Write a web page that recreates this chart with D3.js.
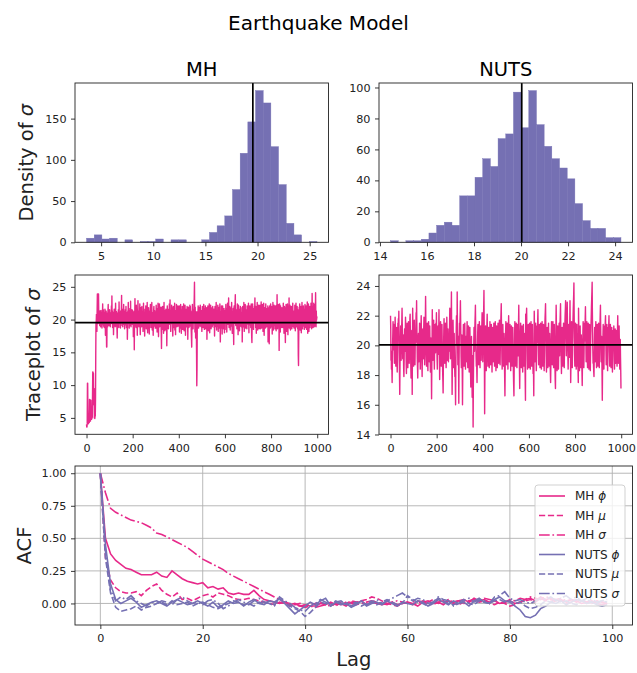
<!DOCTYPE html>
<html>
<head>
<meta charset="utf-8">
<script src="https://cdn.jsdelivr.net/npm/d3@7"></script>
<style>
  body { margin: 0; background: #fff; }
  svg { font-family: "DejaVu Sans", sans-serif; }
</style>
</head>
<body>
<div id="chart"></div>
<script>
/**
 * Earthquake model: MH vs NUTS diagnostics (histograms, traces, ACF)
 */

// ---- histogram counts (30 equal bins between lo and hi) ----
var mhSigmaRange = [3.6, 25.7];
var mhSigmaCounts = [5, 9, 4, 5, 0, 3, 0, 1, 1, 4, 0, 3, 3, 0, 0, 3, 12, 20, 32, 64,
    108, 146, 184, 169, 116, 70, 23, 9, 0, 1];
var nutsSigmaRange = [14.45, 24.25];
var nutsSigmaCounts = [1, 0, 1, 1, 2, 6, 11, 13, 11, 30, 30, 42, 54, 49, 67, 70, 97, 74, 98, 76,
    62, 54, 48, 41, 25, 14, 9, 9, 3, 3];
var mhSigmaMean = 19.55,
    nutsSigmaMean = 20.03;

// ---- traces of sigma ----
var mhSigmaTrace = [
    4.0,3.6,3.6,4.2,10.3,10.3,6.2,4.1,4.1,4.6,4.6,4.3,4.3,7.8,7.8,6.0,4.5,4.5,7.7,7.7,5.2,5.2,4.8,6.5,6.5,
    5.0,8.5,12.0,12.0,11.8,11.8,7.0,9.5,9.5,5.0,5.0,4.9,5.3,5.3,8.0,14.5,19.6,19.6,20.8,18.2,18.2,21.5,23.9,23.9,19.4,
    19.4,23.9,23.9,21.2,19.6,19.6,20.8,19.1,21.3,21.3,20.0,18.9,20.6,21.4,19.5,19.5,20.9,18.7,21.0,20.2,22.4,19.3,20.7,21.5,19.0,
    20.4,20.4,18.8,21.1,19.8,21.6,20.3,17.6,19.4,20.9,21.3,19.2,15.8,15.8,19.7,21.0,20.1,18.9,21.4,22.3,19.6,20.5,21.2,19.1,20.8,
    21.5,19.3,20.2,18.9,21.0,21.0,19.7,20.6,22.1,19.4,23.6,20.3,21.3,18.8,19.9,21.1,20.4,17.7,19.5,20.8,21.6,19.2,20.1,21.4,18.9,
    20.7,22.5,19.8,20.9,19.0,21.2,20.2,18.6,17.2,19.6,21.0,20.5,19.3,21.5,20.0,18.8,22.7,20.6,19.4,21.1,19.9,20.8,18.7,21.3,20.1,
    19.6,21.4,23.7,20.2,19.1,21.0,20.5,18.9,21.6,19.8,20.7,22.3,19.3,20.4,21.2,18.6,20.9,19.7,21.5,20.0,19.2,22.0,20.6,18.8,21.1,
    19.5,20.3,17.0,19.0,21.3,20.1,22.6,19.4,20.8,21.4,18.7,20.2,19.9,21.7,20.4,19.1,22.8,20.0,18.9,21.0,19.6,20.7,21.5,19.3,20.5,
    21.4,19.2,20.3,17.4,19.8,20.8,21.2,15.4,19.5,20.6,23.2,20.1,19.0,21.3,20.4,18.8,22.2,19.7,20.9,21.5,17.6,19.4,20.6,22.9,19.9,
    21.1,20.2,18.9,21.3,19.6,20.7,22.4,19.4,17.7,20.3,21.8,19.1,20.5,21.2,18.9,22.0,20.0,19.5,21.2,20.8,18.2,19.8,22.5,20.4,19.3,
    21.0,20.0,17.5,19.5,21.6,20.3,19.3,22.1,20.7,18.6,21.0,19.9,20.5,22.6,19.2,18.0,20.5,21.3,19.6,21.8,20.1,19.2,17.8,20.8,21.3,
    19.7,20.2,22.3,20.6,18.8,21.1,19.5,20.9,22.6,19.3,18.4,21.1,20.3,19.7,17.6,20.6,21.4,22.0,19.0,20.8,21.4,19.4,20.1,18.7,21.2,
    20.3,18.7,22.2,19.4,21.7,20.5,18.1,20.8,21.3,19.8,22.5,20.1,17.4,19.6,21.2,20.0,22.4,18.9,20.6,21.5,19.3,20.4,21.9,19.1,17.9,
    15.6,19.6,21.9,20.4,18.5,22.0,19.7,21.0,20.3,17.9,20.7,22.6,19.2,21.4,20.0,18.3,21.0,19.5,20.8,21.6,19.3,18.5,20.2,16.0,19.0,
    22.1,20.2,19.0,21.6,20.6,18.6,20.9,21.4,19.5,22.4,20.1,19.3,23.0,19.7,21.3,18.2,20.5,21.1,19.8,22.2,19.4,20.7,21.8,18.9,17.5,
    20.1,22.0,19.6,18.8,21.1,20.3,19.9,22.5,18.4,20.7,21.3,17.7,21.4,19.2,20.6,22.3,20.3,18.9,21.7,19.5,20.2,22.1,19.0,20.8,21.2,
    19.5,21.7,22.1,18.1,20.6,21.2,19.4,18.7,22.3,19.8,20.9,17.9,21.5,20.4,19.3,22.0,20.7,18.5,21.8,19.6,20.2,22.4,20.2,18.3,21.0,
    19.8,19.1,22.2,20.5,17.6,20.8,21.3,19.7,21.6,18.9,20.5,22.0,19.4,21.3,17.0,19.3,20.7,21.9,20.1,18.8,21.2,19.6,20.4,22.2,19.0,
    22.0,19.4,21.3,20.6,18.2,17.0,15.8,19.5,20.7,22.3,19.2,21.5,18.6,20.4,21.0,19.7,22.0,23.4,25.7,20.3,18.1,21.9,19.7,17.2,20.5,
    21.2,19.0,14.8,9.9,12.5,18.4,21.2,19.5,20.8,22.1,20.0,18.7,21.4,19.3,20.6,21.9,19.0,20.3,22.2,20.6,19.1,21.4,18.9,20.2,21.0,
    18.2,20.8,22.0,19.3,21.1,20.5,18.8,20.4,22.3,19.6,21.7,18.5,20.2,21.4,19.9,22.1,20.0,18.6,21.5,19.4,20.7,21.8,17.0,19.8,21.0,
    20.3,22.1,20.6,18.3,21.5,19.1,20.9,22.4,20.0,18.0,21.3,19.5,20.6,22.2,20.7,18.6,21.8,19.2,20.5,21.2,18.9,20.9,22.0,19.6,20.4,
    19.2,20.9,21.6,18.8,20.3,17.5,20.5,22.0,18.9,21.4,20.2,19.7,22.6,20.3,18.4,21.1,19.6,21.3,19.0,22.2,20.6,18.2,21.6,20.1,19.4,
    21.9,20.4,18.7,22.4,19.4,16.6,19.8,21.2,20.1,18.7,22.1,19.8,21.0,17.8,20.7,22.1,19.1,20.5,21.4,18.6,19.9,21.7,20.3,18.0,21.0,
    20.2,18.5,21.4,20.4,22.3,19.6,20.8,21.7,18.1,20.9,19.5,22.5,20.4,19.3,21.2,20.0,23.3,20.2,18.8,21.4,19.9,22.0,20.6,18.4,21.6,
    19.5,20.6,21.8,19.0,22.6,20.3,18.7,17.9,21.2,20.1,19.5,21.7,18.5,16.2,20.8,22.1,19.4,21.0,20.3,22.4,23.8,20.0,19.1,21.5,20.6,
    19.7,21.5,18.6,20.5,22.4,19.2,21.0,17.7,20.1,22.2,19.4,21.6,20.3,18.3,20.7,21.3,19.6,22.0,19.0,20.9,21.8,18.9,20.4,19.5,21.1,
    16.6,19.9,22.0,20.4,18.9,21.3,19.1,22.6,20.0,18.2,21.8,19.6,20.6,22.3,18.7,21.1,20.2,19.3,21.5,20.0,18.6,22.1,19.8,21.4,20.3,
    21.1,19.3,22.5,20.2,18.0,21.5,19.8,20.7,22.1,19.2,20.5,21.4,18.8,20.9,22.4,19.0,17.4,16.5,19.7,20.9,22.4,19.0,21.7,20.3,18.5,
    21.2,20.3,19.5,22.0,21.6,23.3,19.5,21.2,18.8,22.0,20.6,17.9,21.4,19.2,20.8,22.6,20.1,18.4,21.9,19.7,20.4,22.2,20.8,18.6,21.3,
    21.9,19.7,22.2,20.8,18.6,21.3,19.4,22.7,20.0,18.7,21.6,19.1,20.5,22.3,20.4,18.2,21.0,19.9,22.5,20.7,17.6,19.6,21.8,20.2,19.3,
    21.2,18.7,22.4,20.0,19.8,21.5,18.9,20.3,21.7,19.2,20.6,22.1,16.6,19.6,21.8,20.5,19.3,16.3,20.3,22.1,19.3,21.2,18.7,22.4,20.7,
    18.9,21.5,19.5,22.0,20.2,17.8,21.1,19.0,22.6,20.5,18.4,21.7,19.7,22.2,20.1,19.1,21.4,18.6,20.8,22.1,19.6,21.0,18.3,20.6,22.2,
    19.4,23.8,20.1,18.6,21.4,19.2,22.3,20.7,18.9,21.1,15.3,20.8,22.4,19.6,21.0,18.1,22.1,20.4,19.1,21.6,20.0,18.8,21.8,19.3,20.6,
    21.6,18.8,20.6,22.5,19.4,21.2,17.9,20.3,22.0,19.8,21.8,18.5,16.5,20.9,19.3,22.3,20.1,21.5,18.2,21.5,19.6,22.4,20.5,17.7,21.0,
    19.2,22.1,20.0,23.3,18.7,21.3,19.5,22.2,20.6,18.4,21.7,19.1,20.8,22.0,19.9,18.6,21.4,20.2,19.0,22.5,20.5,18.9,21.3,19.7,20.4,
    18.7,21.3,19.5,22.2,20.4,18.3,21.7,19.9,22.5,20.6,18.9,21.2,19.4,22.0,20.7,18.6,21.5,19.6,14.5,13.0,17.6,20.2,21.9,19.1,22.4,
    20.7,18.4,21.4,19.7,22.0,20.3,18.0,21.1,19.4,22.6,20.0,18.6,21.5,19.3,20.8,22.1,19.0,21.6,20.2,18.5,21.0,19.8,22.3,20.4,18.8,
    21.5,19.3,22.1,20.8,18.5,21.2,19.8,22.7,20.1,17.9,21.6,19.0,22.4,20.5,18.2,21.0,19.6,22.0,20.3,18.8,21.7,19.2,20.6,22.5,19.4,
    21.2,18.6,20.9,24.0,19.6,22.0,20.3,18.8,21.7,19.2,22.5,20.6,18.9,21.3,20.2,19.0,22.3,20.8,24.1,20.6,18.9,21.3,19.9,20.2,20.5
];
var nutsSigmaTrace = [
    22.0,21.1,19.0,19.6,18.4,19.2,18.3,17.5,18.9,20.1,20.8,21.6,20.3,19.7,20.9,21.4,20.0,18.8,19.5,20.6,21.9,21.0,19.9,18.6,19.3,
    20.4,21.2,20.7,19.4,18.2,19.1,20.2,21.5,20.9,21.8,21.1,22.3,20.6,19.3,18.0,16.7,18.5,19.8,20.5,21.3,20.1,19.0,19.9,21.0,21.7,
    22.5,21.4,20.2,19.1,19.8,20.7,19.5,18.4,17.9,19.0,20.3,21.1,20.5,19.6,20.8,21.9,21.2,20.0,18.7,18.1,19.4,20.6,21.5,20.4,19.2,
    18.5,19.7,20.9,21.6,20.8,19.9,18.8,19.6,20.5,21.8,22.1,20.9,19.7,18.6,17.8,18.9,20.2,21.0,19.8,16.7,19.5,22.5,21.3,20.4,19.3,
    18.6,19.8,20.9,21.7,20.6,19.4,18.7,19.9,21.0,20.2,21.4,22.2,21.6,23.0,21.5,20.3,19.1,18.5,17.8,19.0,20.1,20.8,19.7,18.9,19.6,
    20.7,21.5,20.4,19.3,18.4,19.5,20.6,21.3,22.0,20.9,19.8,18.8,17.9,19.2,20.4,21.1,20.0,19.1,19.9,21.2,21.9,20.7,19.6,18.7,19.4,
    20.6,21.8,23.3,21.9,20.5,19.4,18.6,19.7,20.8,21.5,20.3,19.1,18.3,19.5,20.7,21.6,20.9,19.8,18.9,20.1,21.3,20.2,19.0,18.2,19.4,
    20.5,19.3,18.1,16.4,18.6,20.0,22.4,21.2,20.1,19.0,19.8,20.9,21.7,20.5,19.2,18.4,19.6,20.8,21.4,20.3,19.5,20.6,21.5,21.0,22.2,
    21.0,19.8,19.0,18.4,19.6,20.7,21.3,20.1,19.4,20.9,22.4,21.1,19.5,17.7,18.8,20.0,20.9,21.6,20.4,19.3,18.6,19.7,20.6,21.4,20.3,
    19.1,18.2,17.6,16.8,18.5,19.9,21.0,21.8,20.7,19.6,18.8,19.8,20.9,21.5,20.4,19.2,18.5,19.6,20.7,21.9,21.0,19.9,19.0,20.2,21.1,
    20.0,18.9,19.7,20.8,19.6,20.5,21.4,22.5,21.2,20.0,19.1,19.9,21.0,22.1,23.6,20.9,18.8,16.7,18.4,19.8,20.9,21.7,20.6,19.4,18.5,
    19.6,20.8,19.7,18.6,17.9,18.8,17.4,16.0,18.3,19.9,21.2,22.0,21.3,20.1,23.6,21.4,19.9,18.7,19.8,20.6,18.4,16.1,18.7,20.3,21.5,
    20.8,21.6,22.2,23.0,21.7,20.4,19.2,18.5,19.6,20.7,19.4,18.1,16.0,17.9,19.5,20.6,21.4,20.5,19.3,18.6,19.8,20.9,21.5,20.3,19.0,
    18.4,19.5,20.6,19.7,18.9,19.8,20.8,21.6,20.6,19.4,18.5,19.3,20.5,21.3,20.2,19.1,18.2,19.4,20.7,21.2,20.0,18.9,18.0,17.2,18.6,
    19.7,20.6,19.4,18.1,16.5,18.0,19.3,17.6,14.5,17.2,19.0,20.3,21.2,20.4,19.6,20.7,21.5,22.0,22.7,21.3,20.1,19.2,18.6,19.5,18.3,
    17.5,18.8,20.0,20.9,21.4,20.2,19.3,18.7,19.8,20.8,21.6,20.5,19.4,18.5,19.7,20.6,21.3,20.1,19.0,19.9,20.8,21.4,22.2,21.0,19.8,
    18.9,19.7,20.8,21.9,22.6,23.7,21.5,18.6,15.4,17.8,19.5,20.7,21.3,20.2,19.0,18.3,19.4,20.6,21.5,22.1,20.9,19.7,18.6,19.5,20.4,
    21.2,20.1,19.3,18.5,19.6,20.7,21.6,20.5,19.4,18.7,19.8,20.9,21.4,20.3,19.1,18.2,19.3,20.5,21.2,20.0,18.9,19.8,20.8,21.5,20.6,
    19.5,18.6,19.7,20.9,21.6,20.4,19.2,18.3,19.4,20.6,21.3,20.2,19.1,18.5,19.6,20.7,21.5,20.8,19.7,18.8,19.9,21.0,21.7,20.5,19.3,
    18.7,19.9,20.8,21.6,22.2,22.8,21.4,20.1,19.0,18.4,19.5,20.6,21.4,20.3,19.2,18.6,19.7,20.8,20.0,18.8,17.6,16.6,18.5,19.9,20.9,
    21.6,20.5,19.4,18.7,19.8,20.9,21.5,20.3,19.1,18.4,19.6,20.8,22.0,21.1,19.9,18.9,19.7,20.6,21.4,20.2,19.0,18.3,19.4,20.5,21.3,
    20.4,19.3,18.6,19.7,20.8,21.2,20.0,18.8,17.9,17.2,16.6,18.4,19.8,20.9,21.6,20.5,19.4,18.6,19.6,20.7,21.5,20.3,19.2,18.5,19.6,
    20.7,21.4,20.2,19.3,20.5,21.6,22.7,21.1,19.6,18.3,17.1,18.6,19.9,20.8,21.5,20.4,19.3,18.5,19.5,20.6,21.3,20.1,19.0,18.2,19.4,
    20.6,21.4,20.3,19.1,18.6,19.7,20.8,20.0,18.7,17.4,16.3,22.1,20.9,21.6,22.0,22.5,21.2,19.9,19.0,18.4,19.5,20.7,21.4,20.2,19.1,
    18.5,19.6,20.8,21.5,20.3,19.2,18.4,19.5,20.7,21.6,20.5,19.3,18.6,19.7,20.9,21.4,20.2,19.0,18.1,19.3,18.0,16.6,19.4,22.3,21.2,
    20.0,18.9,19.8,20.9,21.5,20.4,19.1,18.3,19.4,20.6,21.3,20.2,21.0,21.7,22.4,21.1,19.8,18.7,19.6,20.7,21.4,20.3,19.2,18.5,19.6,
    20.8,21.5,20.3,19.1,18.4,19.5,20.7,21.6,20.4,19.2,18.6,19.7,20.9,21.4,20.2,19.0,18.3,19.4,20.6,21.3,21.9,22.3,22.8,21.4,20.1,
    19.0,18.2,19.3,20.5,21.2,20.1,19.0,18.5,19.6,20.8,21.5,20.4,19.3,18.6,19.7,20.8,20.0,18.9,18.1,17.5,18.6,19.8,20.9,21.6,20.5,
    19.4,18.7,19.8,20.9,21.6,20.4,19.2,18.5,19.6,20.7,21.4,20.2,19.1,18.4,17.6,17.1,19.0,21.2,22.7,21.5,20.2,19.0,18.3,19.4,20.6,
    21.3,20.1,19.0,18.4,19.5,20.7,21.5,20.4,19.3,20.6,21.6,22.2,22.8,21.3,20.0,18.9,18.1,19.2,20.4,21.2,20.1,19.0,18.6,19.8,20.9,
    21.5,20.3,19.2,18.5,19.6,20.8,21.5,22.1,22.5,23.0,21.6,20.3,19.3,20.4,21.4,22.2,22.9,21.5,20.2,19.1,18.4,19.5,20.7,21.4,20.3,
    19.2,20.4,21.5,23.0,21.3,19.8,17.5,18.6,19.8,20.9,21.6,20.4,19.3,18.5,19.7,20.8,21.7,22.4,22.9,23.4,24.2,22.1,20.5,19.3,18.6,
    19.7,20.8,21.5,20.3,19.2,18.4,19.5,20.7,21.4,20.2,19.1,18.6,19.3,18.2,17.5,22.5,21.3,20.1,19.0,18.3,19.4,20.6,21.3,20.1,19.0,
    18.5,19.6,20.7,20.0,18.9,18.2,17.3,18.7,19.9,20.9,21.6,20.4,19.3,18.5,19.6,20.8,21.5,20.3,21.1,21.9,22.6,21.3,20.0,18.9,19.8,
    20.9,21.6,20.4,19.2,18.5,19.6,20.8,21.5,20.3,19.1,18.4,19.5,20.7,21.4,20.2,19.0,18.3,19.4,20.6,21.3,21.9,22.6,23.1,23.6,24.25,
    22.3,20.9,19.7,18.8,19.5,18.6,18.2,17.9,19.2,20.4,21.2,20.0,18.9,19.8,20.9,21.6,20.4,19.3,18.5,19.6,20.8,21.4,20.2,19.1,18.6,
    19.7,20.8,21.5,20.3,19.2,18.5,19.6,20.8,21.4,22.1,22.7,21.3,20.0,18.9,19.8,20.6,19.4,18.0,16.3,18.2,19.6,20.7,21.4,20.2,19.1,
    18.4,19.5,20.7,21.3,20.1,20.9,21.6,22.0,20.8,19.6,18.7,19.8,20.9,21.4,20.2,19.0,18.3,19.4,20.5,21.2,20.6,21.4,22.0,20.7,19.5,
    18.6,19.7,20.8,21.4,20.2,19.1,18.5,19.6,20.7,21.2,20.0,18.9,18.2,19.3,20.4,21.0,20.3,20.8,21.3,20.1,19.0,18.4,19.5,20.6,21.1,
    20.0,18.8,19.7,20.5,21.0,20.2,19.1,18.6,19.8,21.1,22.0,20.7,19.5,18.8,19.9,20.9,21.3,20.1,19.0,18.4,19.5,20.4,19.2,18.3,17.1
];

// ---- autocorrelation, lags 0..99 ----
var acfMhPhi = [
    1.00,0.50,0.38,0.33,0.30,0.27,0.26,0.24,0.22,0.22, 0.22,0.24,0.21,0.20,0.25,0.22,0.19,0.17,0.16,0.15,
    0.16,0.12,0.13,0.11,0.12,0.08,0.07,0.08,0.07,0.07, 0.10,0.06,0.03,0.02,0.01,0.00,0.01,-0.01,0.00,-0.02,
    -0.01,-0.02,-0.02,0.00,-0.01,0.01,-0.01,0.00,-0.02,0.01, 0.00,0.02,-0.01,0.01,0.00,-0.01,0.00,0.01,-0.01,0.00,
    0.01,0.00,-0.02,0.01,0.02,0.00,0.01,-0.01,0.02,0.01, 0.02,0.03,0.01,0.04,0.02,0.03,0.01,0.02,0.00,0.01,
    0.02,0.00,0.01,0.03,0.04,0.02,0.05,0.03,0.04,0.02, 0.03,0.01,0.03,0.02,0.00,0.01,0.02,0.00,-0.01,0.00
];
var acfMhMu = [
    1.00,0.35,0.18,0.12,0.09,0.08,0.08,0.09,0.06,0.10, 0.13,0.15,0.10,0.07,0.05,0.08,0.03,0.04,0.02,0.04,
    0.06,0.07,0.05,0.08,0.07,0.06,0.04,0.03,0.03,0.04, 0.03,0.02,0.01,0.00,-0.01,0.01,0.00,-0.02,-0.01,0.00,
    -0.02,-0.01,0.00,0.01,-0.01,0.00,-0.02,0.01,0.00,0.02, 0.01,0.02,0.03,0.05,0.04,0.02,0.00,-0.01,-0.02,0.00,
    0.01,-0.01,0.00,0.02,0.01,0.03,0.00,0.01,0.02,0.00, -0.01,0.01,0.02,0.03,0.01,0.02,0.00,-0.01,0.01,0.00,
    -0.02,-0.01,0.01,0.02,0.03,0.01,0.04,0.02,0.03,0.01, 0.02,0.00,0.01,0.03,0.02,0.01,0.00,0.02,0.01,0.00
];
var acfMhSigma = [
    1.00,0.85,0.73,0.70,0.68,0.66,0.64,0.63,0.62,0.60, 0.58,0.54,0.53,0.51,0.49,0.47,0.45,0.43,0.40,0.37,
    0.34,0.32,0.30,0.28,0.26,0.23,0.21,0.19,0.17,0.15, 0.13,0.11,0.09,0.07,0.05,0.03,0.01,0.00,-0.01,-0.02,
    -0.03,-0.02,-0.03,-0.02,-0.01,-0.02,0.00,-0.01,0.01,0.00, -0.01,0.00,0.01,0.02,0.01,0.00,-0.01,0.01,0.02,0.01,
    0.00,0.01,0.02,0.01,0.00,-0.01,0.01,0.02,0.03,0.01, 0.02,0.00,0.01,0.03,0.02,0.04,0.03,0.02,0.00,0.01,
    0.03,0.02,0.04,0.03,0.05,0.04,0.03,0.05,0.04,0.03, 0.04,0.02,0.03,0.01,0.02,0.00,0.01,0.02,0.01,0.00
];
var acfNutsPhi = [
    1.00,0.45,0.15,0.03,0.00,0.02,0.04,0.01,-0.03,-0.01, 0.01,0.02,0.00,-0.02,0.01,0.03,0.01,-0.01,0.00,0.02,
    0.00,-0.02,0.01,-0.03,-0.01,0.02,0.00,0.01,-0.02,0.01, 0.03,0.00,-0.01,0.02,0.01,0.04,0.00,-0.04,-0.08,-0.05,
    -0.02,0.01,-0.01,0.02,0.04,-0.02,0.01,-0.01,0.00,-0.03, -0.01,0.02,-0.02,0.00,0.01,-0.01,0.02,0.00,-0.02,0.01,
    0.00,-0.01,0.02,0.01,-0.02,0.00,0.03,0.01,-0.01,0.02, 0.00,0.01,-0.02,0.02,0.04,0.01,0.00,0.03,0.05,0.02,
    0.01,-0.02,-0.05,-0.10,-0.11,-0.09,-0.04,-0.02,0.01,0.00, 0.02,-0.01,0.01,0.03,0.02,0.00,0.01,-0.01,-0.02,-0.01
];
var acfNutsMu = [
    1.00,0.35,0.08,-0.03,-0.06,-0.05,-0.04,-0.02,-0.05,-0.03, -0.02,0.00,0.01,-0.01,0.02,-0.01,0.00,0.01,-0.02,0.00,
    0.01,-0.01,-0.03,-0.04,-0.02,0.00,0.02,0.01,-0.01,0.00, -0.02,0.01,0.00,0.02,-0.01,0.03,0.01,-0.02,-0.04,-0.06,
    -0.10,-0.07,-0.03,0.01,0.00,-0.02,0.01,0.02,-0.01,0.00, 0.01,-0.02,0.00,0.02,-0.01,0.01,0.03,0.01,-0.01,0.00,
    0.06,0.03,0.01,0.00,-0.02,0.01,0.04,0.02,0.00,-0.01, 0.01,0.03,0.00,-0.01,0.02,0.01,0.00,0.02,0.03,0.01,
    0.02,0.00,0.01,-0.02,-0.04,-0.03,-0.01,0.02,0.01,0.03, 0.01,0.02,0.00,-0.01,0.02,0.03,0.01,0.00,0.02,0.01
];
var acfNutsSigma = [
    1.00,0.40,0.10,0.02,0.05,0.03,0.06,0.02,0.00,-0.02, 0.01,0.00,0.02,0.01,-0.01,0.03,0.05,0.02,0.00,0.01,
    -0.01,0.02,0.03,0.00,-0.04,-0.02,0.01,0.03,0.01,-0.01, 0.02,0.04,0.01,0.00,-0.02,0.05,0.02,0.00,-0.03,-0.05,
    -0.06,-0.02,0.00,0.03,0.01,-0.01,0.02,0.00,0.01,-0.02, 0.00,0.02,-0.01,0.01,0.03,0.00,0.02,0.04,0.06,0.08,
    0.05,0.02,0.04,0.03,0.00,0.01,0.05,0.03,0.02,-0.02, 0.00,0.02,0.04,0.01,0.03,0.02,0.00,0.05,0.06,0.09,
    0.04,0.02,0.03,0.01,0.00,0.02,0.04,0.03,0.05,0.02, 0.04,0.06,0.03,0.05,0.02,0.04,0.03,0.01,0.02,0.03
];

// ---- ticks ----
var mhHistXTicks = [5, 10, 15, 20, 25],
    mhHistYTicks = [0, 50, 100, 150],
    nutsHistXTicks = [14, 16, 18, 20, 22, 24],
    nutsHistYTicks = [0, 20, 40, 60, 80, 100],
    traceXTicks = [0, 200, 400, 600, 800, 1000],
    mhTraceYTicks = [5, 10, 15, 20, 25],
    nutsTraceYTicks = [14, 16, 18, 20, 22, 24],
    acfXTicks = [0, 20, 40, 60, 80, 100],
    acfYTicks = [0, 0.25, 0.5, 0.75, 1.0];

var PINK = "#e7298a",
    PURPLE = "#7570b3",
    TICK_FONT = "11.2px";

// panel boxes in pixels
var cols = [{ x0: 75, x1: 328.5 }, { x0: 379, x1: 632.5 }],
    rows = [{ y0: 83, y1: 242.3 }, { y0: 275, y1: 434.3 }, { y0: 466, y1: 625 }];

var svg = d3.select("#chart").append("svg")
    .attr("width", 637)
    .attr("height", 673);

/**
 * matplotlib style auto limits: data extent padded by 5% each side
 */
function padded(lo, hi) {
    var m = (hi - lo) * 0.05;
    return [lo - m, hi + m];
}

/**
 * Ticks, tick labels and the frame of one panel
 */
function drawAxes(box, x, y, xTicks, yTicks, yFormat) {
    var g = svg.append("g");

    g.append("g")
        .attr("transform", "translate(0," + box.y1 + ")")
        .call(d3.axisBottom(x).tickValues(xTicks).tickSize(4).tickPadding(5.5).tickFormat(d3.format("d")))
        .call(styleAxis);

    g.append("g")
        .attr("transform", "translate(" + box.x0 + ",0)")
        .call(d3.axisLeft(y).tickValues(yTicks).tickSize(4).tickPadding(4.5).tickFormat(yFormat || d3.format("d")))
        .call(styleAxis);

    g.append("rect")
        .attr("x", box.x0)
        .attr("y", box.y0)
        .attr("width", box.x1 - box.x0)
        .attr("height", box.y1 - box.y0)
        .attr("fill", "none")
        .attr("stroke", "#222")
        .attr("stroke-width", 0.9);
}

function styleAxis(sel) {
    sel.select(".domain").remove();
    sel.selectAll(".tick line").attr("stroke", "#222").attr("stroke-width", 0.9);
    sel.selectAll(".tick text")
        .attr("fill", "#222")
        .style("font-size", TICK_FONT)
        .style("font-family", "DejaVu Sans");
}

function drawHist(box, range, counts, mean, xTicks, yTicks) {
    var w = (range[1] - range[0]) / counts.length,
        x = d3.scaleLinear().domain(padded(range[0], range[1])).range([box.x0, box.x1]),
        y = d3.scaleLinear().domain([0, d3.max(counts) * 1.05]).range([box.y1, box.y0]);

    svg.append("g").selectAll("rect")
        .data(counts)
        .enter().append("rect")
        .attr("x", function (d, i) { return x(range[0] + i * w); })
        .attr("width", function (d, i) { return x(range[0] + (i + 1) * w) - x(range[0] + i * w); })
        .attr("y", function (d) { return y(d); })
        .attr("height", function (d) { return y(0) - y(d); })
        .attr("fill", PURPLE)
        .attr("stroke", PURPLE)
        .attr("stroke-width", 0.4)
        .attr("stroke-opacity", function (d) { return d > 0 ? 1 : 0; });

    svg.append("line")
        .attr("x1", x(mean)).attr("x2", x(mean))
        .attr("y1", box.y0).attr("y2", box.y1)
        .attr("stroke", "#000")
        .attr("stroke-width", 1.7);

    drawAxes(box, x, y, xTicks, yTicks);
}

function drawTrace(box, values, mean, yTicks) {
    var ext = d3.extent(values),
        x = d3.scaleLinear().domain(padded(0, values.length - 1)).range([box.x0, box.x1]),
        y = d3.scaleLinear().domain(padded(ext[0], ext[1])).range([box.y1, box.y0]);

    var line = d3.line()
        .x(function (d, i) { return x(i); })
        .y(function (d) { return y(d); });

    svg.append("path")
        .datum(values)
        .attr("d", line)
        .attr("fill", "none")
        .attr("stroke", PINK)
        .attr("stroke-width", 1.4)
        .attr("stroke-linejoin", "round");

    svg.append("line")
        .attr("x1", box.x0).attr("x2", box.x1)
        .attr("y1", y(mean)).attr("y2", y(mean))
        .attr("stroke", "#000")
        .attr("stroke-width", 1.7);

    drawAxes(box, x, y, traceXTicks, yTicks);
}

function drawAcf(box) {
    var series = [
        { name: "MH", sym: "\u03d5", values: acfMhPhi, color: PINK, dash: null },
        { name: "MH", sym: "\u03bc", values: acfMhMu, color: PINK, dash: "6.2,2.7" },
        { name: "MH", sym: "\u03c3", values: acfMhSigma, color: PINK, dash: "10.7,2.7,1.7,2.7" },
        { name: "NUTS", sym: "\u03d5", values: acfNutsPhi, color: PURPLE, dash: null },
        { name: "NUTS", sym: "\u03bc", values: acfNutsMu, color: PURPLE, dash: "6.2,2.7" },
        { name: "NUTS", sym: "\u03c3", values: acfNutsSigma, color: PURPLE, dash: "10.7,2.7,1.7,2.7" }
    ];
    var all = d3.merge(series.map(function (s) { return s.values; })),
        ext = d3.extent(all),
        x = d3.scaleLinear().domain(padded(0, acfMhPhi.length - 1)).range([box.x0, box.x1]),
        y = d3.scaleLinear().domain(padded(ext[0], ext[1])).range([box.y1, box.y0]);

    // grid
    var grid = svg.append("g").attr("stroke", "#b0b0b0").attr("stroke-width", 0.9);
    acfXTicks.forEach(function (t) {
        grid.append("line").attr("x1", x(t)).attr("x2", x(t)).attr("y1", box.y0).attr("y2", box.y1);
    });
    acfYTicks.forEach(function (t) {
        grid.append("line").attr("x1", box.x0).attr("x2", box.x1).attr("y1", y(t)).attr("y2", y(t));
    });

    var line = d3.line()
        .x(function (d, i) { return x(i); })
        .y(function (d) { return y(d); });

    series.forEach(function (s) {
        svg.append("path")
            .datum(s.values)
            .attr("d", line)
            .attr("fill", "none")
            .attr("stroke", s.color)
            .attr("stroke-width", 1.6)
            .attr("stroke-dasharray", s.dash);
    });

    drawAxes(box, x, y, acfXTicks, acfYTicks, d3.format(".2f"));

    // legend
    var lg = svg.append("g").attr("transform", "translate(535,485)");
    lg.append("rect")
        .attr("width", 90).attr("height", 121)
        .attr("rx", 3)
        .attr("fill", "#fff").attr("fill-opacity", 0.8)
        .attr("stroke", "#ccc").attr("stroke-width", 0.9);
    series.forEach(function (s, i) {
        var yy = 11 + i * 19.5;
        lg.append("line")
            .attr("x1", 4).attr("x2", 30)
            .attr("y1", yy).attr("y2", yy)
            .attr("stroke", s.color)
            .attr("stroke-width", 1.6)
            .attr("stroke-dasharray", s.dash);
        var t = lg.append("text")
            .attr("x", 40).attr("y", yy + 4)
            .style("font-size", "12px")
            .attr("fill", "#222")
            .text(s.name + " ");
        t.append("tspan").style("font-style", "italic").text(s.sym);
    });
}

function ylabel(x, yMid, label) {
    var t = svg.append("text")
        .attr("transform", "translate(" + x + "," + yMid + ") rotate(-90)")
        .attr("text-anchor", "middle")
        .style("font-size", "19.5px")
        .attr("fill", "#222")
        .text(label);
    return t;
}

// ---- draw ----
svg.append("text")
    .attr("x", 318.5).attr("y", 30)
    .attr("text-anchor", "middle")
    .style("font-size", "20px")
    .text("Earthquake Model");

svg.append("text")
    .attr("x", (cols[0].x0 + cols[0].x1) / 2).attr("y", 76)
    .attr("text-anchor", "middle").style("font-size", "19.5px").text("MH");
svg.append("text")
    .attr("x", (cols[1].x0 + cols[1].x1) / 2).attr("y", 76)
    .attr("text-anchor", "middle").style("font-size", "19.5px").text("NUTS");

drawHist({ x0: cols[0].x0, x1: cols[0].x1, y0: rows[0].y0, y1: rows[0].y1 },
    mhSigmaRange, mhSigmaCounts, mhSigmaMean, mhHistXTicks, mhHistYTicks);
drawHist({ x0: cols[1].x0, x1: cols[1].x1, y0: rows[0].y0, y1: rows[0].y1 },
    nutsSigmaRange, nutsSigmaCounts, nutsSigmaMean, nutsHistXTicks, nutsHistYTicks);

drawTrace({ x0: cols[0].x0, x1: cols[0].x1, y0: rows[1].y0, y1: rows[1].y1 },
    mhSigmaTrace, mhSigmaMean, mhTraceYTicks);
drawTrace({ x0: cols[1].x0, x1: cols[1].x1, y0: rows[1].y0, y1: rows[1].y1 },
    nutsSigmaTrace, nutsSigmaMean, nutsTraceYTicks);

drawAcf({ x0: cols[0].x0, x1: cols[1].x1, y0: rows[2].y0, y1: rows[2].y1 });

ylabel(33, (rows[0].y0 + rows[0].y1) / 2, "Density of ").append("tspan").style("font-style", "italic").text("\u03c3");
ylabel(40, (rows[1].y0 + rows[1].y1) / 2, "Traceplot of ").append("tspan").style("font-style", "italic").text("\u03c3");
ylabel(31, (rows[2].y0 + rows[2].y1) / 2, "ACF");

svg.append("text")
    .attr("x", (cols[0].x0 + cols[1].x1) / 2).attr("y", 666)
    .attr("text-anchor", "middle").style("font-size", "19.5px").attr("fill", "#222").text("Lag");
</script>
</body>
</html>
